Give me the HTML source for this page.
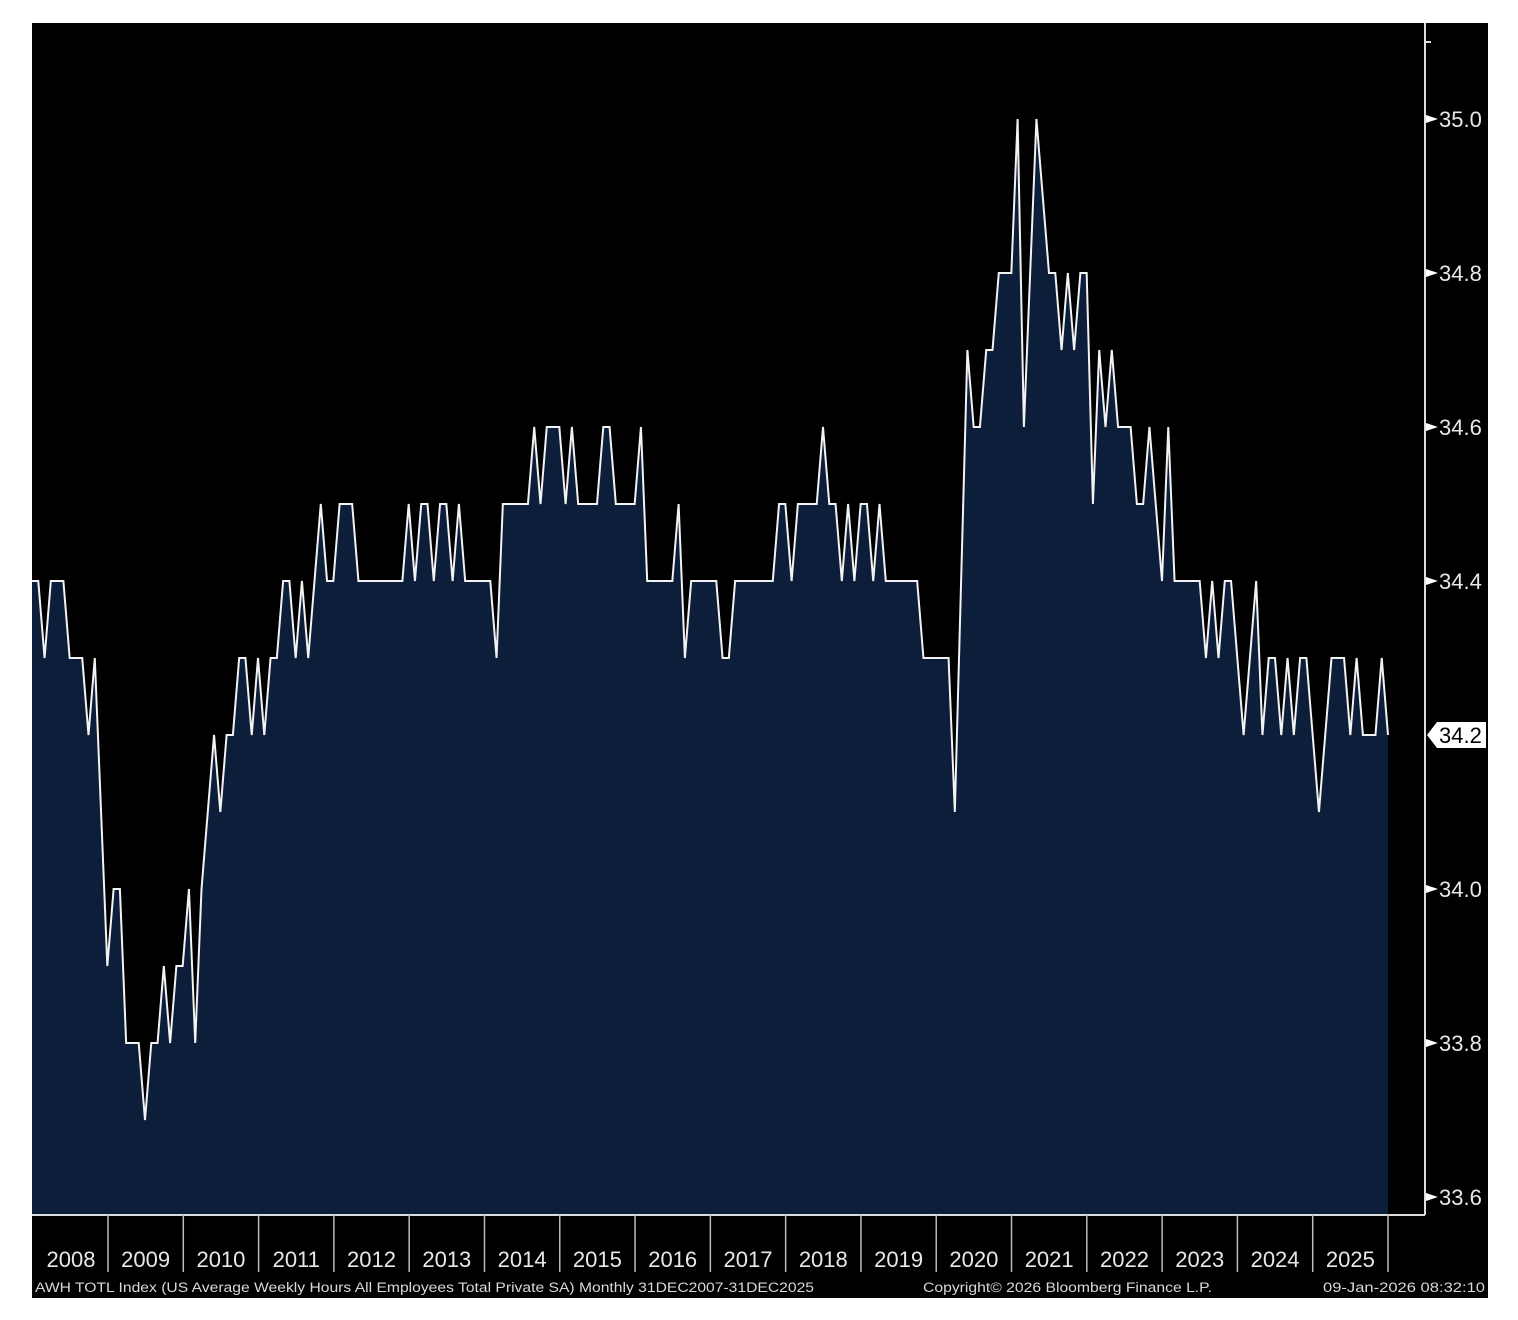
<!DOCTYPE html>
<html><head><meta charset="utf-8"><style>
html,body{margin:0;padding:0;background:#fff;}
body{width:1518px;height:1320px;overflow:hidden;}
svg{position:absolute;left:0;top:0;}
text{font-family:"Liberation Sans","DejaVu Sans",sans-serif;}
</style></head><body>
<svg id="chart" width="1518" height="1320">
<rect x="32" y="23" width="1456" height="1275" fill="#000"/>
<g id="plot"></g>
</svg>
<script>
const years = ["2008","2009","2010","2011","2012","2013","2014","2015","2016","2017","2018","2019","2020","2021","2022","2023","2024","2025"];
const yTicks = [33.6,33.8,34.0,34.2,34.4,34.6,34.8,35.0];
const yTickLabels = ["33.6","33.8","34.0","34.2","34.4","34.6","34.8","35.0"];
// Monthly values Dec 2007 .. Dec 2025
const hours = [
34.4,34.4,34.3,34.4,34.4,34.4,34.3,34.3,34.3,34.2,34.3,34.1,33.9,
34.0,34.0,33.8,33.8,33.8,33.7,33.8,33.8,33.9,33.8,33.9,33.9,
34.0,33.8,34.0,34.1,34.2,34.1,34.2,34.2,34.3,34.3,34.2,34.3,
34.2,34.3,34.3,34.4,34.4,34.3,34.4,34.3,34.4,34.5,34.4,34.4,
34.5,34.5,34.5,34.4,34.4,34.4,34.4,34.4,34.4,34.4,34.4,34.5,
34.4,34.5,34.5,34.4,34.5,34.5,34.4,34.5,34.4,34.4,34.4,34.4,
34.4,34.3,34.5,34.5,34.5,34.5,34.5,34.6,34.5,34.6,34.6,34.6,
34.5,34.6,34.5,34.5,34.5,34.5,34.6,34.6,34.5,34.5,34.5,34.5,
34.6,34.4,34.4,34.4,34.4,34.4,34.5,34.3,34.4,34.4,34.4,34.4,
34.4,34.3,34.3,34.4,34.4,34.4,34.4,34.4,34.4,34.4,34.5,34.5,
34.4,34.5,34.5,34.5,34.5,34.6,34.5,34.5,34.4,34.5,34.4,34.5,
34.5,34.4,34.5,34.4,34.4,34.4,34.4,34.4,34.4,34.3,34.3,34.3,
34.3,34.3,34.1,34.4,34.7,34.6,34.6,34.7,34.7,34.8,34.8,34.8,
35.0,34.6,34.8,35.0,34.9,34.8,34.8,34.7,34.8,34.7,34.8,34.8,
34.5,34.7,34.6,34.7,34.6,34.6,34.6,34.5,34.5,34.6,34.5,34.4,
34.6,34.4,34.4,34.4,34.4,34.4,34.3,34.4,34.3,34.4,34.4,34.3,
34.2,34.3,34.4,34.2,34.3,34.3,34.2,34.3,34.2,34.3,34.3,34.2,
34.1,34.2,34.3,34.3,34.3,34.2,34.3,34.2,34.2,34.2,34.3,34.2
];
const lastLabel = "34.2";

const NS="http://www.w3.org/2000/svg";
const plot=document.getElementById('plot');
const X0=32, DX=(1388-32)/216, BOTTOM=1215, AXISX=1425;
function xs(i){return X0+i*DX;}
function ys(v){return 119+(35.0-v)/0.1*77;}
function mk(tag,attrs){const e=document.createElementNS(NS,tag);for(const k in attrs)e.setAttribute(k,attrs[k]);plot.appendChild(e);return e;}

let pts=hours.map((v,i)=>xs(i).toFixed(2)+','+ys(v).toFixed(2));
const area=mk('polygon',{points:xs(0)+','+BOTTOM+' '+pts.join(' ')+' '+xs(hours.length-1)+','+BOTTOM,fill:'#0d1e3b'});


const line=mk('polyline',{points:pts.join(' '),fill:'none',stroke:'#f2f2f2','stroke-width':2,'stroke-linejoin':'miter'});



const xa=mk('line',{x1:32,y1:BOTTOM,x2:AXISX,y2:BOTTOM,stroke:'#ddd','stroke-width':2});


const ya=mk('line',{x1:AXISX,y1:23,x2:AXISX,y2:BOTTOM,stroke:'#ddd','stroke-width':2});


const mt=mk('line',{x1:AXISX,y1:ys(35.1),x2:AXISX+6,y2:ys(35.1),stroke:'#ddd','stroke-width':2});



yTicks.forEach((v,k)=>{
  const y=ys(v);
  if(yTickLabels[k]===lastLabel && Math.abs(v-hours[hours.length-1])<1e-9) return;
  const tri=mk('polygon',{points:(AXISX+1)+','+(y-4)+' '+(AXISX+1)+','+(y+4)+' '+(AXISX+13)+','+y,fill:'#fff'});
  
  
  const t=mk('text',{x:AXISX+14,y:y+8,fill:'#e8e8e8','font-size':22});
  t.textContent=yTickLabels[k];
  
  
});

const ly=ys(hours[hours.length-1]);
const lb=mk('polygon',{points:(AXISX+2)+','+ly+' '+(AXISX+12)+','+(ly-13)+' '+1486+','+(ly-13)+' '+1486+','+(ly+13)+' '+(AXISX+12)+','+(ly+13),fill:'#fff'});


const lt=mk('text',{x:AXISX+14,y:ly+8,fill:'#000','font-size':22});
lt.textContent=lastLabel;



const YEARW=(1388-108)/17;
years.forEach((yr,k)=>{
  const sep=108+k*YEARW;
  const s=mk('line',{x1:sep,y1:BOTTOM,x2:sep,y2:1272,stroke:'#bbb','stroke-width':1.5});
  
  
  const cx=(k===0?(32+sep)/2+1:sep-YEARW/2);
  const t=mk('text',{x:cx,y:1267,fill:'#e8e8e8','font-size':22,'text-anchor':'middle'});
  t.textContent=yr;
  
  
});

function foot(x,w,txt,name){
  const t=mk('text',{x:x,y:1292,fill:'#d8d8d8','font-size':13.5,textLength:w,lengthAdjust:'spacingAndGlyphs'});
  t.textContent=txt;
  
  
}
foot(35,779,"AWH TOTL Index (US Average Weekly Hours All Employees Total Private SA) Monthly 31DEC2007-31DEC2025","footer-source");
foot(923,289,"Copyright\u00a9 2026 Bloomberg Finance L.P.","footer-copyright");
foot(1323,162,"09-Jan-2026 08:32:10","footer-timestamp");
</script>
</body></html>
